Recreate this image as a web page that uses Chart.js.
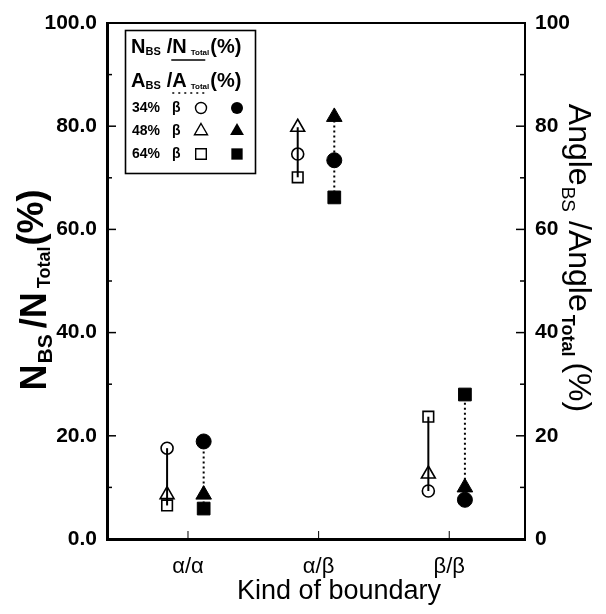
<!DOCTYPE html>
<html><head><meta charset="utf-8">
<script src="https://cdn.jsdelivr.net/npm/chart.js@4/dist/chart.umd.min.js"></script>
<style>html,body{margin:0;padding:0;background:#fff;}#wrap{width:606px;height:614px;position:relative;}</style>
</head><body><div id="wrap"><canvas id="c" width="606" height="614"></canvas></div>
<script>
const categories = ['α/α', 'α/β', 'β/β'];
const fractions = ['34% β', '48% β', '64% β'];
// N_BS/N_Total (%) — open markers, left axis
const nbs34 = [17.6, 74.6, 9.3];
const nbs48 = [8.6, 79.8, 12.6];
const nbs64 = [6.5, 70.1, 23.7];
// A_BS/A_Total (%) — filled markers, right axis
const abs34 = [18.9, 73.4, 7.6];
const abs48 = [8.6, 81.8, 10.0];
const abs64 = [5.9, 66.2, 28.0];
const leftTicks = [0, 20, 40, 60, 80, 100];
const rightTicks = [0, 20, 40, 60, 80, 100];

const OPEN_OFF = -0.16, FILL_OFF = 0.12;
const FONT = '"Liberation Sans", Arial, sans-serif';

function pts(arr, off) { return arr.map((v, i) => ({ x: i + 1 + off, y: v })); }
function connector(i, arrs, off) {
  const vals = arrs.map(a => a[i]);
  return [{ x: i + 1 + off, y: Math.min(...vals) }, { x: i + 1 + off, y: Math.max(...vals) }];
}

const datasets = [];
categories.forEach((c, i) => {
  datasets.push({ type: 'line', data: connector(i, [nbs34, nbs48, nbs64], OPEN_OFF), yAxisID: 'yL',
    borderColor: '#000', borderWidth: 2, pointRadius: 0, showLine: true, order: 5 });
  datasets.push({ type: 'line', data: connector(i, [abs34, abs48, abs64], FILL_OFF), yAxisID: 'yR',
    borderColor: '#000', borderWidth: 2, borderDash: [2, 3], pointRadius: 0, showLine: true, order: 5 });
});
const markerDefs = [
  [nbs34, OPEN_OFF, 'yL', 'circle', 6, false],
  [nbs48, OPEN_OFF, 'yL', 'triangle', 8, false],
  [nbs64, OPEN_OFF, 'yL', 'rect', 7.5, false],
  [abs34, FILL_OFF, 'yR', 'circle', 7.5, true],
  [abs48, FILL_OFF, 'yR', 'triangle', 9, true],
  [abs64, FILL_OFF, 'yR', 'rect', 9, true],
];
markerDefs.forEach(([arr, off, ax, style, r, filled]) => {
  datasets.push({ type: 'scatter', data: pts(arr, off), yAxisID: ax, pointStyle: style, pointRadius: r,
    pointHoverRadius: r, pointBorderColor: '#000', pointBorderWidth: filled ? 1 : 1.6,
    pointBackgroundColor: filled ? '#000' : 'rgba(0,0,0,0)', showLine: false, order: 1 });
});

function rich(ctx, segs, x0, cy, rot, align) {
  ctx.save();
  ctx.translate(x0, cy); ctx.rotate(rot);
  let total = 0;
  segs.forEach(s => { ctx.font = `${s.w || 'bold'} ${s.size}px ${FONT}`; s.width = ctx.measureText(s.t).width; total += s.width + (s.gap || 0); });
  let x = align === 'left' ? 0 : -total / 2;
  const base = segs[0].size * 0.36;
  ctx.fillStyle = '#000'; ctx.textBaseline = 'alphabetic'; ctx.textAlign = 'left';
  segs.forEach(s => { ctx.font = `${s.w || 'bold'} ${s.size}px ${FONT}`; ctx.fillText(s.t, x, base + (s.dy || 0)); s.x = x; x += s.width + (s.gap || 0); });
  ctx.restore();
  return segs;
}
function marker(ctx, style, x, y, r, filled) {
  ctx.save();
  ctx.beginPath();
  if (style === 'circle') ctx.arc(x, y, r, 0, Math.PI * 2);
  else if (style === 'triangle') {
    let a = 0;
    ctx.moveTo(x + Math.sin(a) * r, y - Math.cos(a) * r);
    a += 2 * Math.PI / 3; ctx.lineTo(x + Math.sin(a) * r, y - Math.cos(a) * r);
    a += 2 * Math.PI / 3; ctx.lineTo(x + Math.sin(a) * r, y - Math.cos(a) * r);
    ctx.closePath();
  } else { const s = r * Math.SQRT1_2; ctx.rect(x - s, y - s, 2 * s, 2 * s); }
  if (filled) { ctx.fillStyle = '#000'; ctx.fill(); }
  else { ctx.strokeStyle = '#000'; ctx.lineWidth = 1.4; ctx.stroke(); }
  ctx.restore();
}

const decor = {
  id: 'decor',
  afterDraw(chart) {
    const ctx = chart.ctx, a = chart.chartArea;
    const yL = chart.scales.yL, yR = chart.scales.yR, xs = chart.scales.x;
    ctx.save();
    ctx.strokeStyle = '#000';
    ctx.lineWidth = 2; ctx.beginPath(); ctx.moveTo(a.left, a.top); ctx.lineTo(a.right, a.top); ctx.stroke();
    ctx.lineWidth = 1.5;
    for (let v = 0; v <= 100; v += 10) {
      const len = v % 20 === 0 ? 9 : 5;
      let p = yL.getPixelForValue(v);
      ctx.beginPath(); ctx.moveTo(a.left, p); ctx.lineTo(a.left + len, p); ctx.stroke();
      p = yR.getPixelForValue(v);
      ctx.beginPath(); ctx.moveTo(a.right, p); ctx.lineTo(a.right - len, p); ctx.stroke();
    }
    ctx.lineWidth = 1;
    [1, 2, 3].forEach(v => { const p = xs.getPixelForValue(v); ctx.beginPath(); ctx.moveTo(p, a.bottom); ctx.lineTo(p, a.bottom - 8); ctx.stroke(); });
    ctx.restore();

    rich(ctx, [{ t: 'N', size: 36, gap: 1 }, { t: 'BS', size: 21, dy: 6, gap: 6 }, { t: '/N', size: 36, gap: 4 }, { t: 'Total', size: 18, dy: 4, gap: 1 }, { t: '(%)', size: 36, dy: -3 }],
      33, 290, -Math.PI / 2);
    rich(ctx, [{ t: 'Angle', size: 32, w: 'normal', gap: 1 }, { t: 'BS', size: 19, dy: 7, w: 'normal', gap: 9 }, { t: '/Angle', size: 32, w: 'normal', gap: 3 }, { t: 'Total', size: 18, dy: 7, gap: 6 }, { t: '(%)', size: 32, w: 'normal' }],
      581, 258, Math.PI / 2);
    ctx.save();
    ctx.font = `normal 27px ${FONT}`; ctx.fillStyle = '#000'; ctx.textAlign = 'center'; ctx.textBaseline = 'middle';
    ctx.fillText('Kind of boundary', a.left + 0.555 * (a.right - a.left), 592);
    ctx.restore();

    ctx.save();
    ctx.strokeStyle = '#000'; ctx.lineWidth = 1.6;
    ctx.strokeRect(125.5, 30.5, 130, 143);
    ctx.restore();
    const r1 = rich(ctx, [{ t: 'N', size: 20 }, { t: 'BS', size: 11, dy: 2, gap: 6 }, { t: '/', size: 20 }, { t: 'N', size: 20, gap: 4 }, { t: 'Total', size: 8, dy: 2, gap: 1 }, { t: '(%)', size: 20 }], 131, 46, 0, 'left');
    const r2 = rich(ctx, [{ t: 'A', size: 20 }, { t: 'BS', size: 11, dy: 2, gap: 6 }, { t: '/', size: 20 }, { t: 'A', size: 20, gap: 4 }, { t: 'Total', size: 8, dy: 2, gap: 1 }, { t: '(%)', size: 20 }], 131, 80, 0, 'left');
    ctx.save();
    ctx.strokeStyle = '#000'; ctx.lineWidth = 1.5;
    ctx.beginPath(); ctx.moveTo(131 + r1[3].x - 1, 60); ctx.lineTo(131 + r1[3].x + 33, 60); ctx.stroke();
    ctx.setLineDash([2, 4]);
    ctx.beginPath(); ctx.moveTo(131 + r2[3].x, 93); ctx.lineTo(131 + r2[3].x + 32, 93); ctx.stroke();
    ctx.restore();
    const styles = ['circle', 'triangle', 'rect'];
    const rowsY = [108, 131, 154];
    fractions.forEach((f, i) => {
      ctx.save();
      ctx.font = `bold 14px ${FONT}`; ctx.fillStyle = '#000'; ctx.textBaseline = 'middle'; ctx.textAlign = 'left';
      const parts = f.split(' ');
      ctx.fillText(parts[0], 132, rowsY[i]);
      ctx.fillText(parts[1], 172, rowsY[i]);
      ctx.restore();
      const ro = styles[i] === 'circle' ? 5.5 : 7.5;
      marker(ctx, styles[i], 201, rowsY[i], ro, false);
      marker(ctx, styles[i], 237, rowsY[i], ro + 0.5, true);
    });
  }
};

new Chart(document.getElementById('c'), {
  data: { datasets },
  options: {
    responsive: false, animation: false,
    layout: { padding: { top: 23, left: 0, right: 0, bottom: 0 } },
    plugins: { legend: { display: false }, tooltip: { enabled: false } },
    scales: {
      x: {
        type: 'linear', min: 0.38, max: 3.58,
        afterBuildTicks: s => { s.ticks = categories.map((c, i) => ({ value: i + 1 })); },
        ticks: { callback: v => categories[v - 1], font: { family: FONT, size: 22 }, color: '#000', padding: 15, maxRotation: 0 },
        grid: { display: false, drawTicks: false },
        border: { display: true, color: '#000', width: 3 },
        afterFit: s => { s.height = 75; }
      },
      yL: {
        position: 'left', min: 0, max: 100,
        afterBuildTicks: s => { s.ticks = leftTicks.map(v => ({ value: v })); },
        ticks: { callback: v => v.toFixed(1), font: { family: FONT, size: 21, weight: 'bold' }, color: '#000', padding: 10 },
        grid: { display: false, drawTicks: false },
        border: { display: true, color: '#000', width: 3 },
        afterFit: s => { s.width = 107; }
      },
      yR: {
        position: 'right', min: 0, max: 100,
        afterBuildTicks: s => { s.ticks = rightTicks.map(v => ({ value: v })); },
        ticks: { callback: v => String(v), font: { family: FONT, size: 21, weight: 'bold' }, color: '#000', padding: 10 },
        grid: { display: false, drawTicks: false },
        border: { display: true, color: '#000', width: 2 },
        afterFit: s => { s.width = 81; }
      }
    }
  },
  plugins: [decor]
});
</script>
</body></html>
